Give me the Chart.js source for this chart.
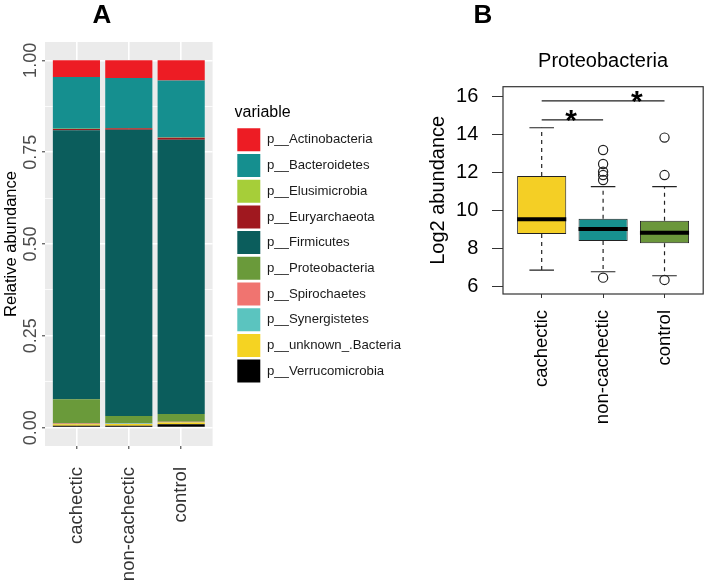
<!DOCTYPE html>
<html>
<head>
<meta charset="utf-8">
<script src="https://cdn.jsdelivr.net/npm/chart.js@4.4.1/dist/chart.umd.min.js"></script>
<style>
  body { margin: 0; background: #fff; }
  #wrap { position: relative; width: 709px; height: 585px; }
  canvas { position: absolute; top: 0; }
  .tag { position: absolute; top: 1px; width: 40px; text-align: center;
         font: bold 26px 'Liberation Sans', Arial, sans-serif; line-height: 26px; }
</style>
</head>
<body>
<div id="wrap">
  <canvas id="chartA" width="410" height="585" style="left:0"></canvas>
  <canvas id="chartB" width="299" height="585" style="left:410px"></canvas>
  <div class="tag" style="left:82px">A</div>
  <div class="tag" style="left:463px">B</div>
</div>
<script>
const FONT = "'Liberation Sans', Arial, Helvetica, sans-serif";
Chart.defaults.font.family = FONT;

// ---- shared categories
const groups = ['cachectic', 'non-cachectic', 'control'];
const groupPos = [1, 2, 3];

// ---- panel A: relative abundance (one array per phylum, in group order)
const phyla = ['p__Actinobacteria', 'p__Bacteroidetes', 'p__Elusimicrobia', 'p__Euryarchaeota',
  'p__Firmicutes', 'p__Proteobacteria', 'p__Spirochaetes', 'p__Synergistetes',
  'p__unknown_.Bacteria', 'p__Verrucomicrobia'];
const phylumColors = ['#ED1C24', '#158F8F', '#A6CE39', '#A0181F', '#0B5D5C',
  '#6A9A3A', '#F07470', '#5BC4BF', '#F5D322', '#000000'];

const actinobacteria  = [0.045, 0.048, 0.055];
const bacteroidetes   = [0.141, 0.136, 0.155];
const elusimicrobia   = [0.001, 0.001, 0.001];
const euryarchaeota   = [0.003, 0.004, 0.005];
const firmicutes      = [0.733, 0.779, 0.747];
const proteobacteria  = [0.066, 0.020, 0.021];
const spirochaetes    = [0.001, 0.001, 0.001];
const synergistetes   = [0.001, 0.001, 0.001];
const unknownBacteria = [0.004, 0.005, 0.005];
const verrucomicrobia = [0.005, 0.005, 0.009];

const abundance = [actinobacteria, bacteroidetes, elusimicrobia, euryarchaeota, firmicutes,
  proteobacteria, spirochaetes, synergistetes, unknownBacteria, verrucomicrobia];

const yTicksA = [0, 0.125, 0.25, 0.375, 0.5, 0.625, 0.75, 0.875, 1];
const yMajorA = [0, 0.25, 0.5, 0.75, 1];

// ---- panel B: Proteobacteria log2 abundance boxplot
const boxQ1       = [8.74, 8.37, 8.25];
const boxMedian   = [9.51, 9.00, 8.81];
const boxQ3       = [11.79, 9.54, 9.44];
const whiskerLow  = [6.84, 6.75, 6.54];
const whiskerHigh = [14.33, 11.23, 11.23];
const outlierGroup = [2, 2, 2, 2, 2, 2, 3, 3, 3];
const outlierValue = [13.16, 12.42, 12.02, 11.84, 11.58, 6.44, 13.81, 11.84, 6.32];
const sigFrom = [1, 1];
const sigTo   = [2, 3];
const sigY    = [14.74, 15.74];
const starX   = [1.48, 2.55];
const starY   = [14.95, 15.96];
const yTicksB = [6, 8, 10, 12, 14, 16];
const boxColors = ['#F4CF25', '#17918F', '#6B973B'];

// ---------------- chart A
const panelBg = {
  id: 'panelBg',
  beforeDraw(chart) {
    const {ctx, chartArea: {left, top, width, height}} = chart;
    ctx.save();
    ctx.fillStyle = '#EBEBEB';
    ctx.fillRect(left, top, width, height);
    ctx.restore();
  }
};

// ggplot stacks the first level on top, so build datasets bottom-up
const datasetsA = phyla.map((name, i) => ({
  label: name,
  data: abundance[i].map((v, j) => ({x: groupPos[j], y: v})),
  backgroundColor: phylumColors[i],
  borderWidth: 0,
  barPercentage: 0.9,
  categoryPercentage: 1
})).reverse();

const isMajorA = v => yMajorA.includes(v);

new Chart(document.getElementById('chartA'), {
  type: 'bar',
  data: { datasets: datasetsA },
  options: {
    responsive: false,
    animation: false,
    events: [],
    layout: { padding: { top: 42, right: 5.4, bottom: 0, left: 0 } },
    scales: {
      x: {
        type: 'linear',
        stacked: true,
        offset: false,
        min: 0.4,
        max: 3.6,
        afterBuildTicks: s => { s.ticks = groupPos.map(v => ({value: v})); },
        afterFit: s => { s.height = 139; },
        border: { display: false },
        grid: { offset: false, color: '#FFFFFF', lineWidth: 1.6, tickLength: 3, tickColor: '#333333', tickWidth: 1 },
        ticks: {
          autoSkip: false, minRotation: 90, maxRotation: 90, padding: 18,
          color: '#333333', font: { size: 18.5 },
          callback: v => groups[v - 1]
        }
      },
      y: {
        stacked: true,
        min: -0.05,
        max: 1.05,
        afterBuildTicks: s => { s.ticks = yTicksA.map(v => ({value: v})); },
        afterFit: s => { s.width = 45; },
        border: { display: false },
        grid: {
          color: '#FFFFFF',
          lineWidth: c => isMajorA(c.tick.value) ? 1.6 : 0.8,
          tickLength: 3,
          tickWidth: 1,
          tickColor: c => isMajorA(c.tick.value) ? '#333333' : 'rgba(0,0,0,0)'
        },
        ticks: {
          autoSkip: false, minRotation: 90, maxRotation: 90,
          crossAlign: 'center', padding: -6.5,
          color: '#4D4D4D', font: { size: 18 },
          callback: v => isMajorA(v) ? v.toFixed(2) : ''
        },
        title: {
          display: true, text: 'Relative abundance', color: '#000000',
          font: { size: 16.5 }, padding: { top: 1.1, bottom: 0 }
        }
      },
      gap: {
        type: 'linear', position: 'right',
        afterFit: s => { s.width = 22; },
        grid: { display: false }, border: { display: false }, ticks: { display: false }
      }
    },
    plugins: {
      tooltip: { enabled: false },
      legend: {
        position: 'right',
        fullSize: false,
        reverse: true,
        maxWidth: 170,
        labels: {
          boxWidth: 23, boxHeight: 23, padding: 2.7,
          color: '#1A1A1A', font: { size: 13.2 }
        },
        title: {
          display: true, text: 'variable', position: 'start', color: '#000000',
          font: { size: 16 }, padding: { top: 2, bottom: 1.7 }
        }
      }
    }
  },
  plugins: [panelBg]
});

// ---------------- chart B
const gapPt = x => ({x: x, y: null});
const boxPts = groupPos.map((g, i) => ({x: g, y: [boxQ1[i], boxQ3[i]]}));
const medianPts = [];
const whiskerPts = [];
const capPts = [];
groupPos.forEach((g, i) => {
  medianPts.push({x: g - 0.4, y: boxMedian[i]}, {x: g + 0.4, y: boxMedian[i]}, gapPt(g));
  whiskerPts.push({x: g, y: boxQ3[i]}, {x: g, y: whiskerHigh[i]}, gapPt(g),
                  {x: g, y: boxQ1[i]}, {x: g, y: whiskerLow[i]}, gapPt(g));
  capPts.push({x: g - 0.2, y: whiskerHigh[i]}, {x: g + 0.2, y: whiskerHigh[i]}, gapPt(g),
              {x: g - 0.2, y: whiskerLow[i]}, {x: g + 0.2, y: whiskerLow[i]}, gapPt(g));
});
const outlierPts = outlierValue.map((v, i) => ({x: outlierGroup[i], y: v}));
const sigPts = [];
sigY.forEach((v, i) => {
  sigPts.push({x: sigFrom[i], y: v}, {x: sigTo[i], y: v}, gapPt(sigTo[i]));
});

const framePlugin = {
  id: 'frame',
  afterDraw(chart) {
    const {ctx, chartArea: {left, top, width, height}} = chart;
    ctx.save();
    ctx.strokeStyle = '#333333';
    ctx.lineWidth = 1.2;
    ctx.strokeRect(left, top, width, height);
    ctx.restore();
  }
};

const starPlugin = {
  id: 'stars',
  afterDatasetsDraw(chart) {
    const {ctx, scales: {x, y}} = chart;
    ctx.save();
    ctx.font = 'bold 30px ' + FONT;
    ctx.fillStyle = '#000000';
    ctx.textAlign = 'center';
    ctx.textBaseline = 'alphabetic';
    const m = ctx.measureText('*');
    const mid = (m.actualBoundingBoxAscent - m.actualBoundingBoxDescent) / 2;
    starX.forEach((sx, i) => {
      ctx.fillText('*', x.getPixelForValue(sx), y.getPixelForValue(starY[i]) + mid);
    });
    ctx.restore();
  }
};

new Chart(document.getElementById('chartB'), {
  type: 'bar',
  data: {
    datasets: [
      { type: 'line', data: medianPts, borderColor: '#000000', borderWidth: 4, pointRadius: 0 },
      { type: 'scatter', data: outlierPts, pointRadius: 4.6, borderWidth: 1.2, pointBorderWidth: 1.2,
        borderColor: '#222222', backgroundColor: 'rgba(0,0,0,0)' },
      { type: 'line', data: capPts, borderColor: '#222222', borderWidth: 1.2, pointRadius: 0 },
      { type: 'line', data: whiskerPts, borderColor: '#222222', borderWidth: 1.2, borderDash: [4, 4], pointRadius: 0 },
      { type: 'line', data: sigPts, borderColor: '#222222', borderWidth: 1.2, pointRadius: 0 },
      { type: 'bar', data: boxPts, backgroundColor: boxColors, borderColor: '#222222', borderWidth: 1,
        borderSkipped: false, barPercentage: 0.8, categoryPercentage: 1 }
    ]
  },
  options: {
    responsive: false,
    animation: false,
    events: [],
    layout: { padding: { top: 0, right: 2, bottom: 0, left: 0 } },
    scales: {
      x: {
        type: 'linear',
        offset: false,
        min: 0.37,
        max: 3.63,
        afterBuildTicks: s => { s.ticks = groupPos.map(v => ({value: v})); },
        afterFit: s => { s.height = 291; },
        border: { display: false },
        grid: { offset: false, drawOnChartArea: false, tickLength: 4, tickColor: '#333333', tickWidth: 1 },
        ticks: {
          autoSkip: false, minRotation: 90, maxRotation: 90, padding: 12,
          color: '#000000', font: { size: 18.5 },
          callback: v => groups[v - 1]
        }
      },
      y: {
        min: 5.58,
        max: 16.49,
        afterBuildTicks: s => { s.ticks = yTicksB.map(v => ({value: v})); },
        afterFit: s => { s.width = 93; },
        border: { display: false },
        grid: { drawOnChartArea: false, tickLength: 11, tickColor: '#333333', tickWidth: 1 },
        ticks: { autoSkip: false, padding: 13.7, color: '#000000', font: { size: 20 } },
        title: {
          display: true, text: 'Log2 abundance', color: '#000000',
          font: { size: 20 }, padding: { top: 16.5, bottom: 0 }
        }
      }
    },
    plugins: {
      tooltip: { enabled: false },
      legend: { display: false },
      title: {
        display: true, text: 'Proteobacteria', fullSize: false, color: '#000000',
        font: { size: 20, weight: 'normal' }, padding: { top: 49, bottom: 13.7 }
      }
    }
  },
  plugins: [starPlugin, framePlugin]
});
</script>
</body>
</html>
